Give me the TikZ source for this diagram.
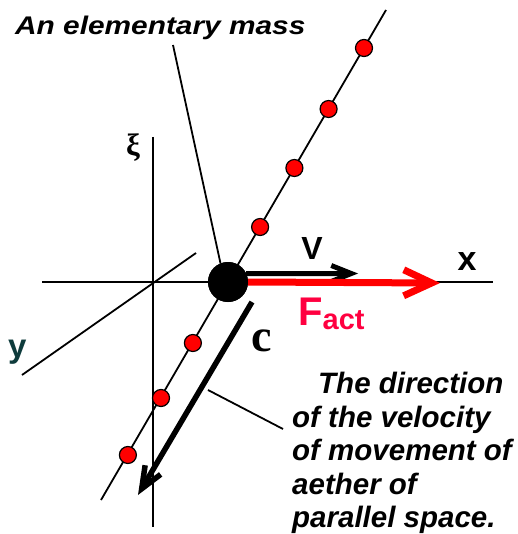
\documentclass[tikz,border=0pt]{standalone}
\usepackage{graphicx}
\usepackage{fontspec}
\setmainfont{Liberation Sans}
\newfontfamily\serifA{Liberation Serif}
\usetikzlibrary{arrows.meta}
\definecolor{factred}{RGB}{255,0,64}
\definecolor{yteal}{RGB}{14,59,60}
\begin{document}
\begin{tikzpicture}[x=1pt,y=-1pt,
  thinline/.style={line width=1.8pt},
  dotnode/.style={circle,draw=black,fill=red,line width=1.2pt,minimum size=17pt,inner sep=0pt},
  lbl/.style={inner sep=0pt},
  bigtext/.style={lbl,font=\bfseries\itshape\fontsize{29.5}{33.5}\selectfont},
]
\path[use as bounding box] (0,0) rectangle (517,534);
% axes and diagonal
\coordinate (xiTop) at (153,137);
\coordinate (xiBot) at (153,527);
\coordinate (xL) at (42,282);
\coordinate (xR) at (493,282);
\coordinate (yTop) at (196,253);
\coordinate (yBot) at (22,375);
\coordinate (dTop) at (386,10);
\coordinate (dBot) at (101,500);
\coordinate (pStart) at (173,45);
\coordinate (cStart) at (252,302);
\coordinate (cEnd) at (138,495);
\coordinate (cPt) at (208,390);
\coordinate (tPt) at (283,429);
\coordinate (vEnd) at (358,273.5);
\coordinate (fEnd) at (440,283);

\node[circle,fill=black,minimum size=40pt,inner sep=0pt,outer sep=0pt] (mass) at (228,282) {};

\draw[thinline] (xiTop) -- (xiBot);
\draw[thinline] (xL) -- (xR);
\draw[thinline] (yTop) -- (yBot);
\draw[thinline] (dTop) -- (dBot);
\draw[thinline] (pStart) -- (mass.112);
\draw[thinline] (tPt) -- (cPt);

\draw[line width=5pt,-{Straight Barb[length=20pt,width=16pt]}] (mass.25) -- (vEnd);
\draw[red,line width=7pt,-{Straight Barb[length=28pt,width=26pt]}] (mass.east) -- (fEnd);
\draw[line width=5.5pt,-{Straight Barb[length=22pt,width=18pt]}] (cStart) -- (cEnd);

\node[circle,fill=black,minimum size=40pt,inner sep=0pt,outer sep=0pt] at (mass) {};

\node[dotnode] (d1) at (364,48) {};
\node[dotnode] (d2) at (328.6,109) {};
\node[dotnode] (d3) at (294.4,168) {};
\node[dotnode] (d4) at (260.1,227) {};
\node[dotnode] (d5) at (192.9,343) {};
\node[dotnode] (d6) at (161,398) {};
\node[dotnode] (d7) at (127.9,455) {};

% labels
\node[lbl,anchor=base west,font=\bfseries\itshape\fontsize{25.5}{30}\selectfont] (tmass) at (15,35) {\scalebox{1.17}[1]{An elementary mass}};
\node[bigtext,anchor=north west,align=left] (tdir) at (292,372) {\hspace*{26pt}The direction\\of the velocity\\of movement of\\aether of\\parallel space.};
\node[lbl,anchor=base west,text=factred,font=\bfseries\fontsize{40}{40}\selectfont] (fact) at (298,325) {F\raisebox{-4pt}{\fontsize{29}{29}\selectfont act}};
\node[lbl,font=\bfseries\fontsize{32}{32}\selectfont] (vlab) at (312,248) {V};
\node[lbl,font=\bfseries\fontsize{34}{34}\selectfont] (xlab) at (467,262) {x};
\node[lbl,anchor=base west,text=yteal,font=\bfseries\fontsize{33}{33}\selectfont] (ylab) at (8,357) {y};
\node[lbl,font=\serifA\bfseries\fontsize{31}{31}\selectfont] (xilab) at (133,148) {ξ};
\node[lbl,font=\serifA\bfseries\fontsize{46}{46}\selectfont] (clab) at (262,341) {c};
\end{tikzpicture}
\end{document}
